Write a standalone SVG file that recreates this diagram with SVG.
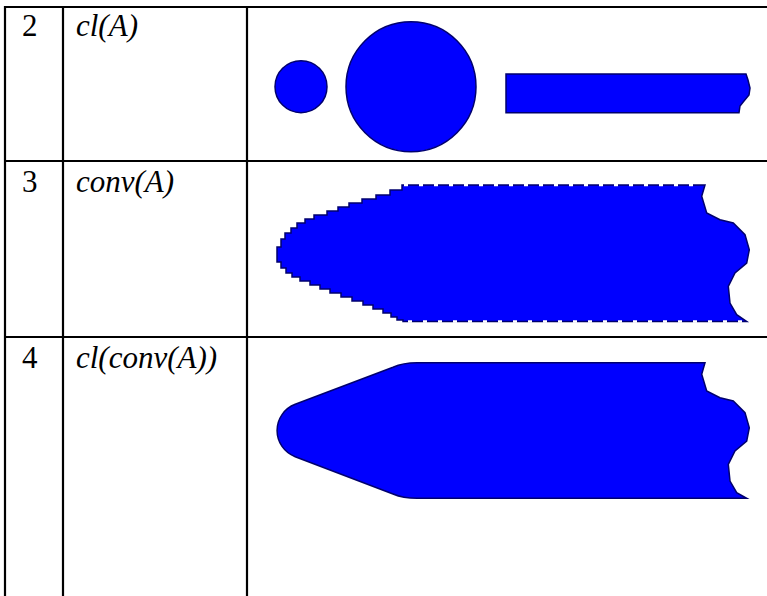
<svg xmlns="http://www.w3.org/2000/svg" width="767" height="596" viewBox="0 0 767 596">
<style>
.t{font-family:"Liberation Serif","Times New Roman",serif;font-size:31px;fill:#000}
.i{font-style:italic}
.grid{stroke:#000;stroke-width:2.2;fill:none}
.blob{fill:#0000ff;stroke:#00006e;stroke-width:1.5}
.notch{stroke:#fff;stroke-width:2.6;stroke-dasharray:4 11;fill:none}
</style>
<rect width="767" height="596" fill="#fff"/>
<g id="table-lines" class="grid">
<line x1="5" y1="7" x2="767" y2="7"/>
<line x1="5" y1="161" x2="767" y2="161"/>
<line x1="5" y1="337" x2="767" y2="337"/>
<line x1="5" y1="6" x2="5" y2="596"/>
<line x1="63" y1="6" x2="63" y2="596"/>
<line x1="247" y1="6" x2="247" y2="596"/>
</g>
<g id="row2">
<text class="t" x="22" y="36">2</text>
<text class="t i" x="76" y="36">cl(A)</text>
<circle class="blob" cx="301" cy="86.7" r="26"/>
<circle class="blob" cx="411" cy="86.7" r="65"/>
<path class="blob" d="M 506 74 H 746 L 748 80 L 750 88 L 749 95 L 744 101 L 740 106 L 739 112.7 H 506 Z"/>
</g>
<g id="row3">
<text class="t" x="22" y="192">3</text>
<text class="t i" x="76" y="192">conv(A)</text>
<path class="blob" d="M 402 185 H 705 L 701.7 196.3 L 706.7 213 L 720 219.7 L 733.3 223 L 745 234.7 L 749.3 249.7 L 746.7 263 L 735 273 L 728.3 286.3 L 730 303 L 736.7 314.7 L 746.7 321.5 H 403 V 320 H 397 V 317 H 391 V 313 H 383 V 309 H 373 V 305 H 363 V 301 H 352 V 297 H 341 V 293 H 330 V 289 H 320 V 285 H 310 V 281 H 300 V 277 H 292 V 273 H 286 V 268 H 281 V 262 H 277 V 247 H 281 V 239 H 285 V 233 H 291 V 228 H 297 V 223 H 305 V 219 H 314 V 215 H 327 V 211 H 338 V 207 H 349 V 203 H 362 V 199 H 376 V 195 H 390 V 190 H 402 Z"/>
<line class="notch" x1="404" y1="185" x2="704" y2="185"/>
<line class="notch" x1="408" y1="321.5" x2="744" y2="321.5"/>
</g>
<g id="row4">
<text class="t" x="22" y="368">4</text>
<text class="t i" x="76" y="368">cl(conv(A))</text>
<path class="blob" d="M 417 362.7 H 705 L 701.7 374.3 L 706.7 391 L 720 397.7 L 733.3 401 L 745 412.7 L 749.3 427.7 L 746.7 441 L 735 451 L 728.3 464.3 L 730 481 L 736.7 492.7 L 746.7 498.3 H 417 Q 403 498.3 393 494 L 295.2 456.7 A 28 28 0 0 1 295.2 404.3 L 393 367.2 Q 403 362.7 417 362.7 Z"/>
</g>
</svg>
